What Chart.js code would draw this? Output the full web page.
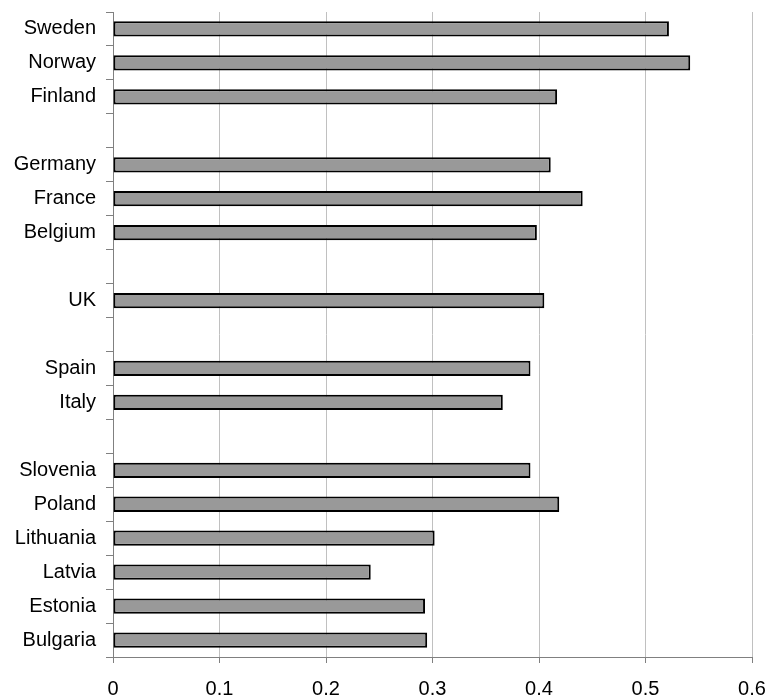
<!DOCTYPE html>
<html>
<head>
<meta charset="utf-8">
<script src="https://cdn.jsdelivr.net/npm/chart.js@4"></script>
<style>
  html, body { margin: 0; padding: 0; background: #fff; overflow: hidden; }
  #wrap { width: 769px; height: 697px; position: relative; }
</style>
</head>
<body>
<div id="wrap"><canvas id="chart"></canvas></div>
<script>
// empty strings are the gaps between country groups
const countries = ["Sweden", "Norway", "Finland", "",
  "Germany", "France", "Belgium", "",
  "UK", "",
  "Spain", "Italy", "",
  "Slovenia", "Poland", "Lithuania", "Latvia", "Estonia", "Bulgaria"];

const values = [0.522, 0.542, 0.417, null,
  0.411, 0.441, 0.398, null,
  0.405, null,
  0.392, 0.366, null,
  0.392, 0.419, 0.302, 0.242, 0.293, 0.295];

const xTicks = [0, 0.1, 0.2, 0.3, 0.4, 0.5, 0.6];

const font = { family: "'Liberation Sans', Arial, sans-serif", size: 20 };

new Chart(document.getElementById("chart"), {
  type: "bar",
  data: {
    labels: countries,
    datasets: [{
      data: values,
      backgroundColor: "#999999",
      borderColor: "#000000",
      borderWidth: 2,
      borderSkipped: false,
      barPercentage: 0.45,
      categoryPercentage: 1
    }]
  },
  options: {
    indexAxis: "y",
    responsive: true,
    maintainAspectRatio: false,
    animation: false,
    layout: { padding: { top: 12, right: 17, left: 0, bottom: 0 } },
    plugins: { legend: { display: false }, tooltip: { enabled: false } },
    scales: {
      x: {
        min: xTicks[0],
        max: xTicks[xTicks.length - 1],
        afterBuildTicks: (scale) => { scale.ticks = xTicks.map(v => ({ value: v })); },
        afterFit: (scale) => {
          scale.height = 40;
          scale.paddingLeft = 0;
          scale.paddingRight = 0;
        },
        grid: { color: "#c0c0c0", lineWidth: 1, tickLength: 6, tickColor: "#808080" },
        border: { color: "#808080" },
        ticks: { color: "#000", font: { ...font, lineHeight: 1 }, padding: 16, maxRotation: 0 }
      },
      y: {
        afterFit: (scale) => {
          scale.width = 113;
          scale.paddingTop = 0;
          scale.paddingBottom = 0;
        },
        grid: { offset: true, drawOnChartArea: false, tickLength: 7, color: "#808080" },
        border: { color: "#808080" },
        ticks: { color: "#000", font: font, padding: 10, autoSkip: false }
      }
    }
  }
});
</script>
</body>
</html>
